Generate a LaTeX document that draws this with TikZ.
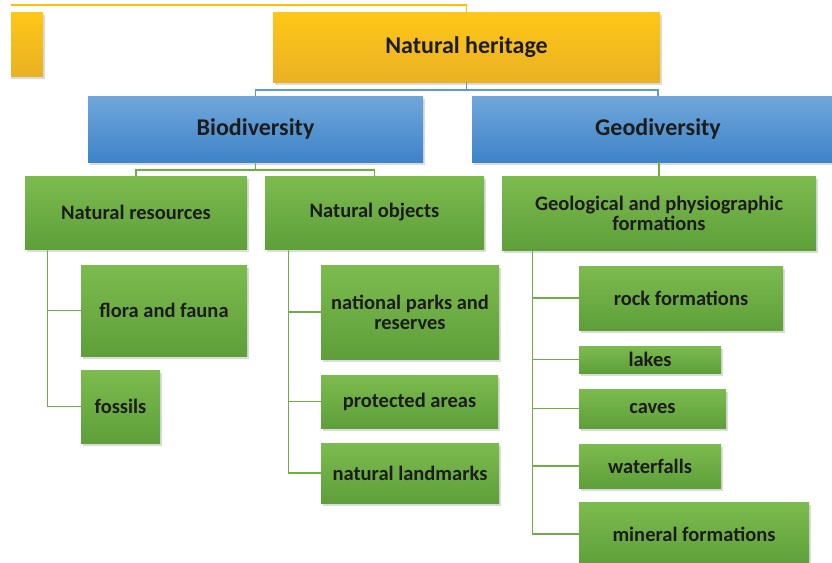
\documentclass[tikz,border=0pt]{standalone}
\usepackage{fontspec}
\setmainfont{Carlito}
\usetikzlibrary{shadows}
\definecolor{ytop}{RGB}{255,199,22}
\definecolor{ybot}{RGB}{233,177,36}
\definecolor{btop}{RGB}{112,167,218}
\definecolor{bbot}{RGB}{62,131,200}
\definecolor{gtop}{RGB}{124,187,78}
\definecolor{gbot}{RGB}{94,159,58}
\definecolor{yline}{RGB}{255,192,0}
\definecolor{bline}{RGB}{91,155,213}
\definecolor{gline}{RGB}{112,173,71}
\definecolor{txt}{RGB}{28,28,28}
\tikzset{
  box/.style={inner sep=0pt, align=center, text=txt,
    drop shadow={shadow xshift=2pt, shadow yshift=-2.5pt, opacity=0.28}},
  ybox/.style={box, top color=ytop, bottom color=ybot,
    font=\fontsize{24}{24}\selectfont\bfseries},
  bbox/.style={box, top color=btop, bottom color=bbot,
    font=\fontsize{24}{24}\selectfont\bfseries},
  gbox/.style={box, top color=gtop, bottom color=gbot,
    font=\fontsize{20.5}{20}\selectfont\bfseries},
  yconn/.style={draw=yline, line width=1.3pt},
  bconn/.style={draw=bline, line width=1.3pt},
  gconn/.style={draw=gline, line width=1.3pt},
}
\begin{document}
\begin{tikzpicture}[x=1pt,y=-1pt]
\useasboundingbox (0,0) rectangle (832,562);
\fill[white] (0,0) rectangle (832,562);
\clip (11,0) rectangle (832,562);
% level 0
\node[ybox, minimum width=143pt, minimum height=64pt] (leftbox) at (-28.5,44) {};
\node[ybox, minimum width=387pt, minimum height=70pt] (heritage) at (466.5,47) {Natural heritage};
% level 1
\node[bbox, minimum width=335pt, minimum height=66pt] (bio) at (255.5,129) {Biodiversity};
\node[bbox, minimum width=372pt, minimum height=66pt] (geo) at (658,129) {Geodiversity};
% level 2
\node[gbox, minimum width=222pt, minimum height=73pt] (nres) at (136,212.5) {Natural resources};
\node[gbox, minimum width=219pt, minimum height=73pt] (nobj) at (374.5,212.5) {Natural objects};
\node[gbox, minimum width=314pt, minimum height=74pt] (geol) at (659,213) {Geological and physiographic\\formations};
% level 3
\node[gbox, minimum width=166pt, minimum height=91pt] (flora) at (164,310.5) {flora and fauna};
\node[gbox, minimum width=79pt, minimum height=73pt] (fossils) at (120.5,406.5) {fossils};
\node[gbox, minimum width=178pt, minimum height=94pt] (parks) at (410,312) {national parks and\\reserves};
\node[gbox, minimum width=177pt, minimum height=53pt] (prot) at (409.5,401.5) {protected areas};
\node[gbox, minimum width=178pt, minimum height=60pt] (land) at (410,473) {natural landmarks};
\node[gbox, minimum width=204pt, minimum height=64pt] (rock) at (681,298) {rock formations};
\node[gbox, minimum width=142pt, minimum height=27pt] (lakes) at (650,359.5) {lakes};
\node[gbox, minimum width=147pt, minimum height=39pt] (caves) at (652.5,408.5) {caves};
\node[gbox, minimum width=142pt, minimum height=44pt] (falls) at (650,466) {waterfalls};
\node[gbox, minimum width=230pt, minimum height=64pt] (mineral) at (694,534) {mineral formations};
% connectors
\coordinate (offleft) at (-60,5);
\draw[yconn] (heritage.north) |- (offleft);
\draw[bconn] (heritage.south) -- (heritage.south |- 0,90) -| (bio.north);
\draw[bconn] (heritage.south) -- (heritage.south |- 0,90) -| (geo.north);
\draw[gconn] (bio.south) -- (bio.south |- 0,170) -| (nres.north);
\draw[gconn] (bio.south) -- (bio.south |- 0,170) -| (nobj.north);
\draw[gconn] (geol.north) -- (geol.north |- geo.south);
\draw[gconn] ([xshift=23pt]nres.south west) |- (flora.west);
\draw[gconn] ([xshift=23pt]nres.south west) |- (fossils.west);
\draw[gconn] ([xshift=24pt]nobj.south west) |- (parks.west);
\draw[gconn] ([xshift=24pt]nobj.south west) |- (prot.west);
\draw[gconn] ([xshift=24pt]nobj.south west) |- (land.west);
\draw[gconn] ([xshift=31pt]geol.south west) |- (rock.west);
\draw[gconn] ([xshift=31pt]geol.south west) |- (lakes.west);
\draw[gconn] ([xshift=31pt]geol.south west) |- (caves.west);
\draw[gconn] ([xshift=31pt]geol.south west) |- (falls.west);
\draw[gconn] ([xshift=31pt]geol.south west) |- (mineral.west);
\end{tikzpicture}
\end{document}
